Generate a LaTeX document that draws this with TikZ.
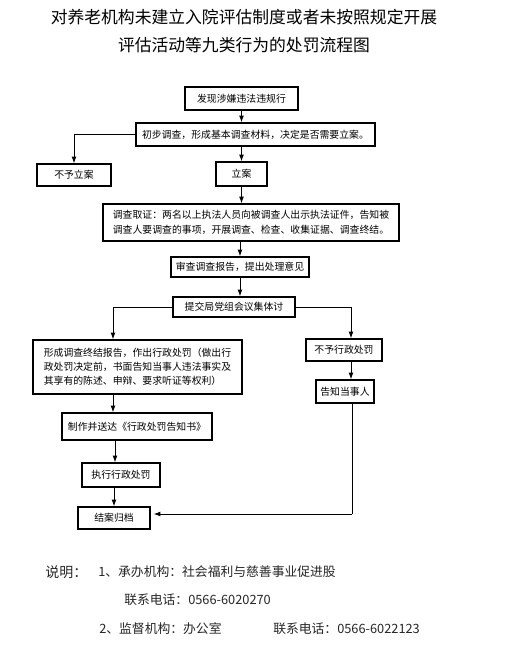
\documentclass[tikz,border=0pt]{standalone}
\usepackage{fontspec}
\setmainfont{Noto Sans CJK SC}
\usetikzlibrary{arrows.meta,calc}
\tikzset{
  box/.style={draw, line width=0.9pt, inner sep=0pt, align=center,
    font=\fontsize{7.4}{11}\selectfont},
  conn/.style={line width=0.75pt, -{Latex[length=5pt,width=3.6pt]}},
  plain/.style={line width=0.75pt},
  note/.style={anchor=west, inner sep=0pt, font=\fontsize{9.6}{12}\selectfont, text=black!85},
}
\begin{document}
\begin{tikzpicture}[x=0.75pt,y=-0.75pt]
\useasboundingbox (0,0) rectangle (508,647);
% title
\node[font=\fontsize{12.6}{21}\selectfont, align=center] (title) at (244,31)
  {对养老机构未建立入院评估制度或者未按照规定开展\\评估活动等九类行为的处罚流程图};
% boxes
\node[box, minimum width=113*0.75pt, minimum height=23*0.75pt] (b1) at (241.5,98.5) {发现涉嫌违法违规行};
\node[box, minimum width=239*0.75pt, minimum height=23*0.75pt] (b2) at (255.5,134.5) {初步调查，形成基本调查材料，决定是否需要立案。};
\node[box, minimum width=74*0.75pt, minimum height=22*0.75pt] (b3) at (74,175) {不予立案};
\node[box, minimum width=51*0.75pt, minimum height=24*0.75pt] (b4) at (241.5,174) {立案};
\node[box, minimum width=296*0.75pt, minimum height=37*0.75pt] (b5) at (251,222.5)
  {调查取证：两名以上执法人员向被调查人出示执法证件，告知被\\调查人要调查的事项，开展调查、检查、收集证据、调查终结。};
\node[box, minimum width=138*0.75pt, minimum height=20*0.75pt] (b6) at (240,267) {审查调查报告，提出处理意见};
\node[box, minimum width=122*0.75pt, minimum height=20*0.75pt] (b7) at (234,307) {提交局党组会议集体讨};
\node[box, minimum width=209*0.75pt, minimum height=54*0.75pt, align=left, font=\fontsize{7.4}{10.5}\selectfont] (b8) at (137.5,367)
  {形成调查终结报告，作出行政处罚（做出行\\政处罚决定前，书面告知当事人违法事实及\\其享有的陈述、申辩、要求听证等权利）};
\node[box, minimum width=76*0.75pt, minimum height=22*0.75pt] (b9) at (344,350) {不予行政处罚};
\node[box, minimum width=58*0.75pt, minimum height=23*0.75pt] (b10) at (345,391.5) {告知当事人};
\node[box, minimum width=150*0.75pt, minimum height=27*0.75pt] (b11) at (137,426.5) {制作并送达《行政处罚告知书》};
\node[box, minimum width=78*0.75pt, minimum height=24*0.75pt] (b12) at (121,475) {执行行政处罚};
\node[box, minimum width=72*0.75pt, minimum height=22*0.75pt] (b13) at (114,518) {结案归档};
% helper coordinates
\coordinate (l1) at (113,307);
\coordinate (r1) at (351,307);
\coordinate (r2) at (352,514);
% connectors
\draw[conn] (b1.south) -- (b1.south |- b2.north);
\draw[conn] (b2.west) -| (b3.north);
\draw[conn] (b4.north |- b2.south) -- (b4.north);
\draw[conn] (b4.south) -- (b4.south |- b5.north);
\draw[conn] (b6.north |- b5.south) -- (b6.north);
\draw[conn] (b6.south) -- (b6.south |- b7.north);
\draw[plain] (b7.west) -- (l1);
\draw[conn] (l1) -- (l1 |- b8.north);
\draw[plain] (b7.east) -- (r1);
\draw[conn] (r1) -- (r1 |- b9.north);
\draw[conn] (r1 |- b9.south) -- (r1 |- b10.north);
\draw[conn] (b8.south -| l1) -- (l1 |- b11.north);
\draw[conn] ($(b11.south -| l1)+(2,0)$) -- ($(l1 |- b12.north)+(2,0)$);
\draw[conn] (b12.south -| b13.north) -- (b13.north);
\draw[plain] (r2 |- b10.south) -- (r2);
\draw[conn] (r2) -- ($(b13.east |- r2)+(3,0)$);
% notes
\node[note, font=\fontsize{10.5}{12}\selectfont] (n0) at (45,572) {说明：};
\node[note] (n1) at (98,572) {1、承办机构：社会福利与慈善事业促进股};
\node[note] (n2) at (124,600) {联系电话：0566-6020270};
\node[note] (n3) at (99,629) {2、监督机构：办公室};
\node[note] (n4) at (273,629) {联系电话：0566-6022123};
\end{tikzpicture}
\end{document}
